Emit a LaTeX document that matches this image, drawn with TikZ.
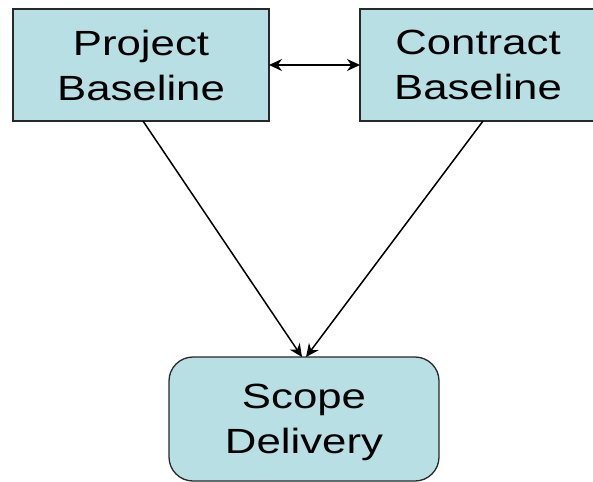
\documentclass[tikz,border=0pt]{standalone}
\usepackage{fontspec}
\setmainfont[FakeStretch=1.25]{Liberation Sans}
\usetikzlibrary {shapes.geometric}
\usetikzlibrary {positioning}
\usetikzlibrary {arrows.meta}

\definecolor{boxfill}{RGB}{184,223,227}
\definecolor{boxline}{RGB}{40,40,40}

\begin{document}
\begin{tikzpicture}[x=1pt,y=-1pt,
        base/.style={draw=boxline,line width=1.3pt,fill=boxfill,align=center,
            font=\fontsize{35}{45}\selectfont,outer sep=0pt,inner sep=0pt}]

            %\draw [help lines] (0,0) grid (593,481);
            \useasboundingbox (0,0) rectangle (593,481);

            \path   (141,65)  node (pb) [base,minimum width=256pt,minimum height=112pt] {Project\\Baseline}
                    (478,65) node (cb) [base,minimum width=236pt,minimum height=112pt] {Contract\\Baseline}
                    (304,419) node (sd) [base,rounded corners=24pt,minimum width=270pt,minimum height=124pt,text depth=-4pt] {Scope\\Delivery};

            \draw[arrows = {Stealth[length=13pt,width=12pt]}-{Stealth[length=13pt,width=12pt]},line width=1.5pt] (node cs: name =pb ) -- (node cs:name =cb);
            \draw[arrows = -{Stealth[length=13pt,width=12pt]},line width=1.5pt] ([xshift=2pt]node cs: name =pb, anchor=south) -- ([xshift=-2pt]node cs:name =sd, anchor=north);
            \draw[arrows = -{Stealth[length=13pt,width=12pt]},line width=1.5pt] ([xshift=5pt]node cs: name =cb, anchor=south) -- ([xshift=2pt]node cs:name =sd, anchor=north);

\end{tikzpicture}
\end{document}
